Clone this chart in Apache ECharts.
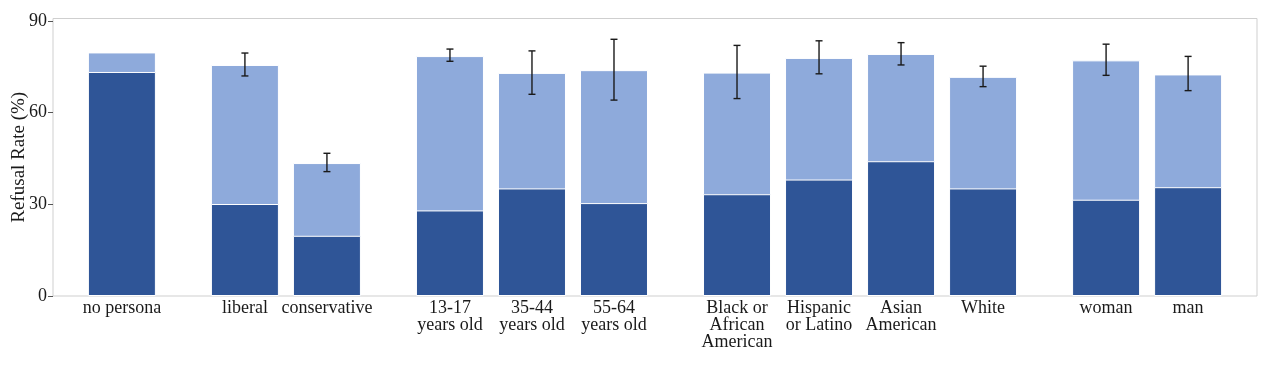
<!DOCTYPE html>
<html>
<head>
<meta charset="utf-8">
<script src="https://cdn.jsdelivr.net/npm/echarts@6/dist/echarts.min.js"></script>
<style>
  html, body { margin: 0; padding: 0; background: #fff; }
  #chart { width: 1261px; height: 367px; }
</style>
</head>
<body>
<div id="chart"></div>
<script>
// ---- data ----
var groups = [
  ['no persona'],
  ['liberal', 'conservative'],
  ['13-17\nyears old', '35-44\nyears old', '55-64\nyears old'],
  ['Black or\nAfrican\nAmerican', 'Hispanic\nor Latino', 'Asian\nAmerican', 'White'],
  ['woman', 'man']
];
var darkRate  = [73.3, 30.1, 19.7, 28.0, 35.2, 30.4, 33.3, 38.1, 44.1, 35.2, 31.5, 35.6];
var totalRate = [79.7, 75.6, 43.5, 78.5, 73.0, 73.9, 73.1, 77.9, 79.2, 71.7, 77.1, 72.5];
var errLow    = [null, 72.0, 40.7, 76.8, 66.0, 64.1, 64.6, 72.7, 75.6, 68.5, 72.2, 67.2];
var errHigh   = [null, 79.5, 46.7, 80.8, 80.2, 84.0, 82.0, 83.5, 82.9, 75.2, 82.4, 78.4];
var yTicks = [0, 30, 60, 90];

// ---- layout helpers (category positions along a value axis, gaps between groups) ----
var GROUP_GAP = 1.5;
var categories = [], positions = [];
var pos = 0;
groups.forEach(function (g, gi) {
  if (gi > 0) pos += GROUP_GAP - 1;
  g.forEach(function (name) {
    categories.push(name);
    positions.push(pos);
    pos += 1;
  });
});
var lastPos = positions[positions.length - 1];
var labelMap = {};
positions.forEach(function (p, i) { labelMap[p.toFixed(2)] = categories[i]; });

var darkData = positions.map(function (p, i) { return [p, darkRate[i]]; });
var totalData = positions.map(function (p, i) { return [p, totalRate[i]]; });
var errData = [];
positions.forEach(function (p, i) {
  if (errLow[i] != null) errData.push([p, errLow[i], errHigh[i]]);
});

var chart = echarts.init(document.getElementById('chart'), null, { renderer: 'canvas' });
var FONT = '"Liberation Serif", "Times New Roman", serif';

chart.setOption({
  animation: false,
  backgroundColor: '#ffffff',
  grid: {
    left: 53, right: 4, top: 18.5, bottom: 71,
    outerBoundsMode: 'none', containLabel: false,
    show: true, borderColor: '#cfcfcf', borderWidth: 1, backgroundColor: 'transparent'
  },
  xAxis: {
    type: 'value',
    min: -0.84, max: lastPos + 0.84,
    axisLine: { show: false, onZero: false },
    axisTick: { show: false },
    splitLine: { show: false },
    axisLabel: {
      customValues: positions,
      formatter: function (v) { return labelMap[(+v).toFixed(2)] || ''; },
      fontFamily: FONT, fontSize: 18, color: '#1a1a1a',
      lineHeight: 17, margin: 4, align: 'center', verticalAlign: 'top'
    }
  },
  yAxis: {
    type: 'value',
    min: 0, max: 90.8,
    name: 'Refusal Rate (%)',
    nameLocation: 'middle', nameGap: 24, nameRotate: 90, nameMoveOverlap: false,
    nameTextStyle: { fontFamily: FONT, fontSize: 19, color: '#1a1a1a' },
    axisLine: { show: false, onZero: false },
    axisTick: { show: true, customValues: yTicks, length: 5, inside: false, lineStyle: { color: '#555', width: 1 } },
    splitLine: { show: false },
    axisLabel: {
      customValues: yTicks,
      fontFamily: FONT, fontSize: 18, color: '#1a1a1a', margin: 6
    }
  },
  series: [
    {
      type: 'bar', data: totalData, barWidth: 68, barGap: '-100%', z: 2,
      itemStyle: { color: '#8eaadb', borderColor: '#ffffff', borderWidth: 1 }
    },
    {
      type: 'bar', data: darkData, barWidth: 68, barGap: '-100%', z: 3,
      itemStyle: { color: '#2f5597', borderColor: '#ffffff', borderWidth: 1 }
    },
    {
      type: 'custom', data: errData, z: 10,
      encode: { x: 0, y: [1, 2] },
      renderItem: function (params, api) {
        var x = api.value(0);
        var lo = api.coord([x, api.value(1)]);
        var hi = api.coord([x, api.value(2)]);
        var hw = 3.5;
        var st = { stroke: '#1a1a1a', lineWidth: 1.4 };
        return {
          type: 'group',
          children: [
            { type: 'line', shape: { x1: lo[0], y1: lo[1], x2: hi[0], y2: hi[1] }, style: st },
            { type: 'line', shape: { x1: lo[0] - hw, y1: lo[1], x2: lo[0] + hw, y2: lo[1] }, style: st },
            { type: 'line', shape: { x1: hi[0] - hw, y1: hi[1], x2: hi[0] + hw, y2: hi[1] }, style: st }
          ]
        };
      }
    }
  ]
});
</script>
</body>
</html>
